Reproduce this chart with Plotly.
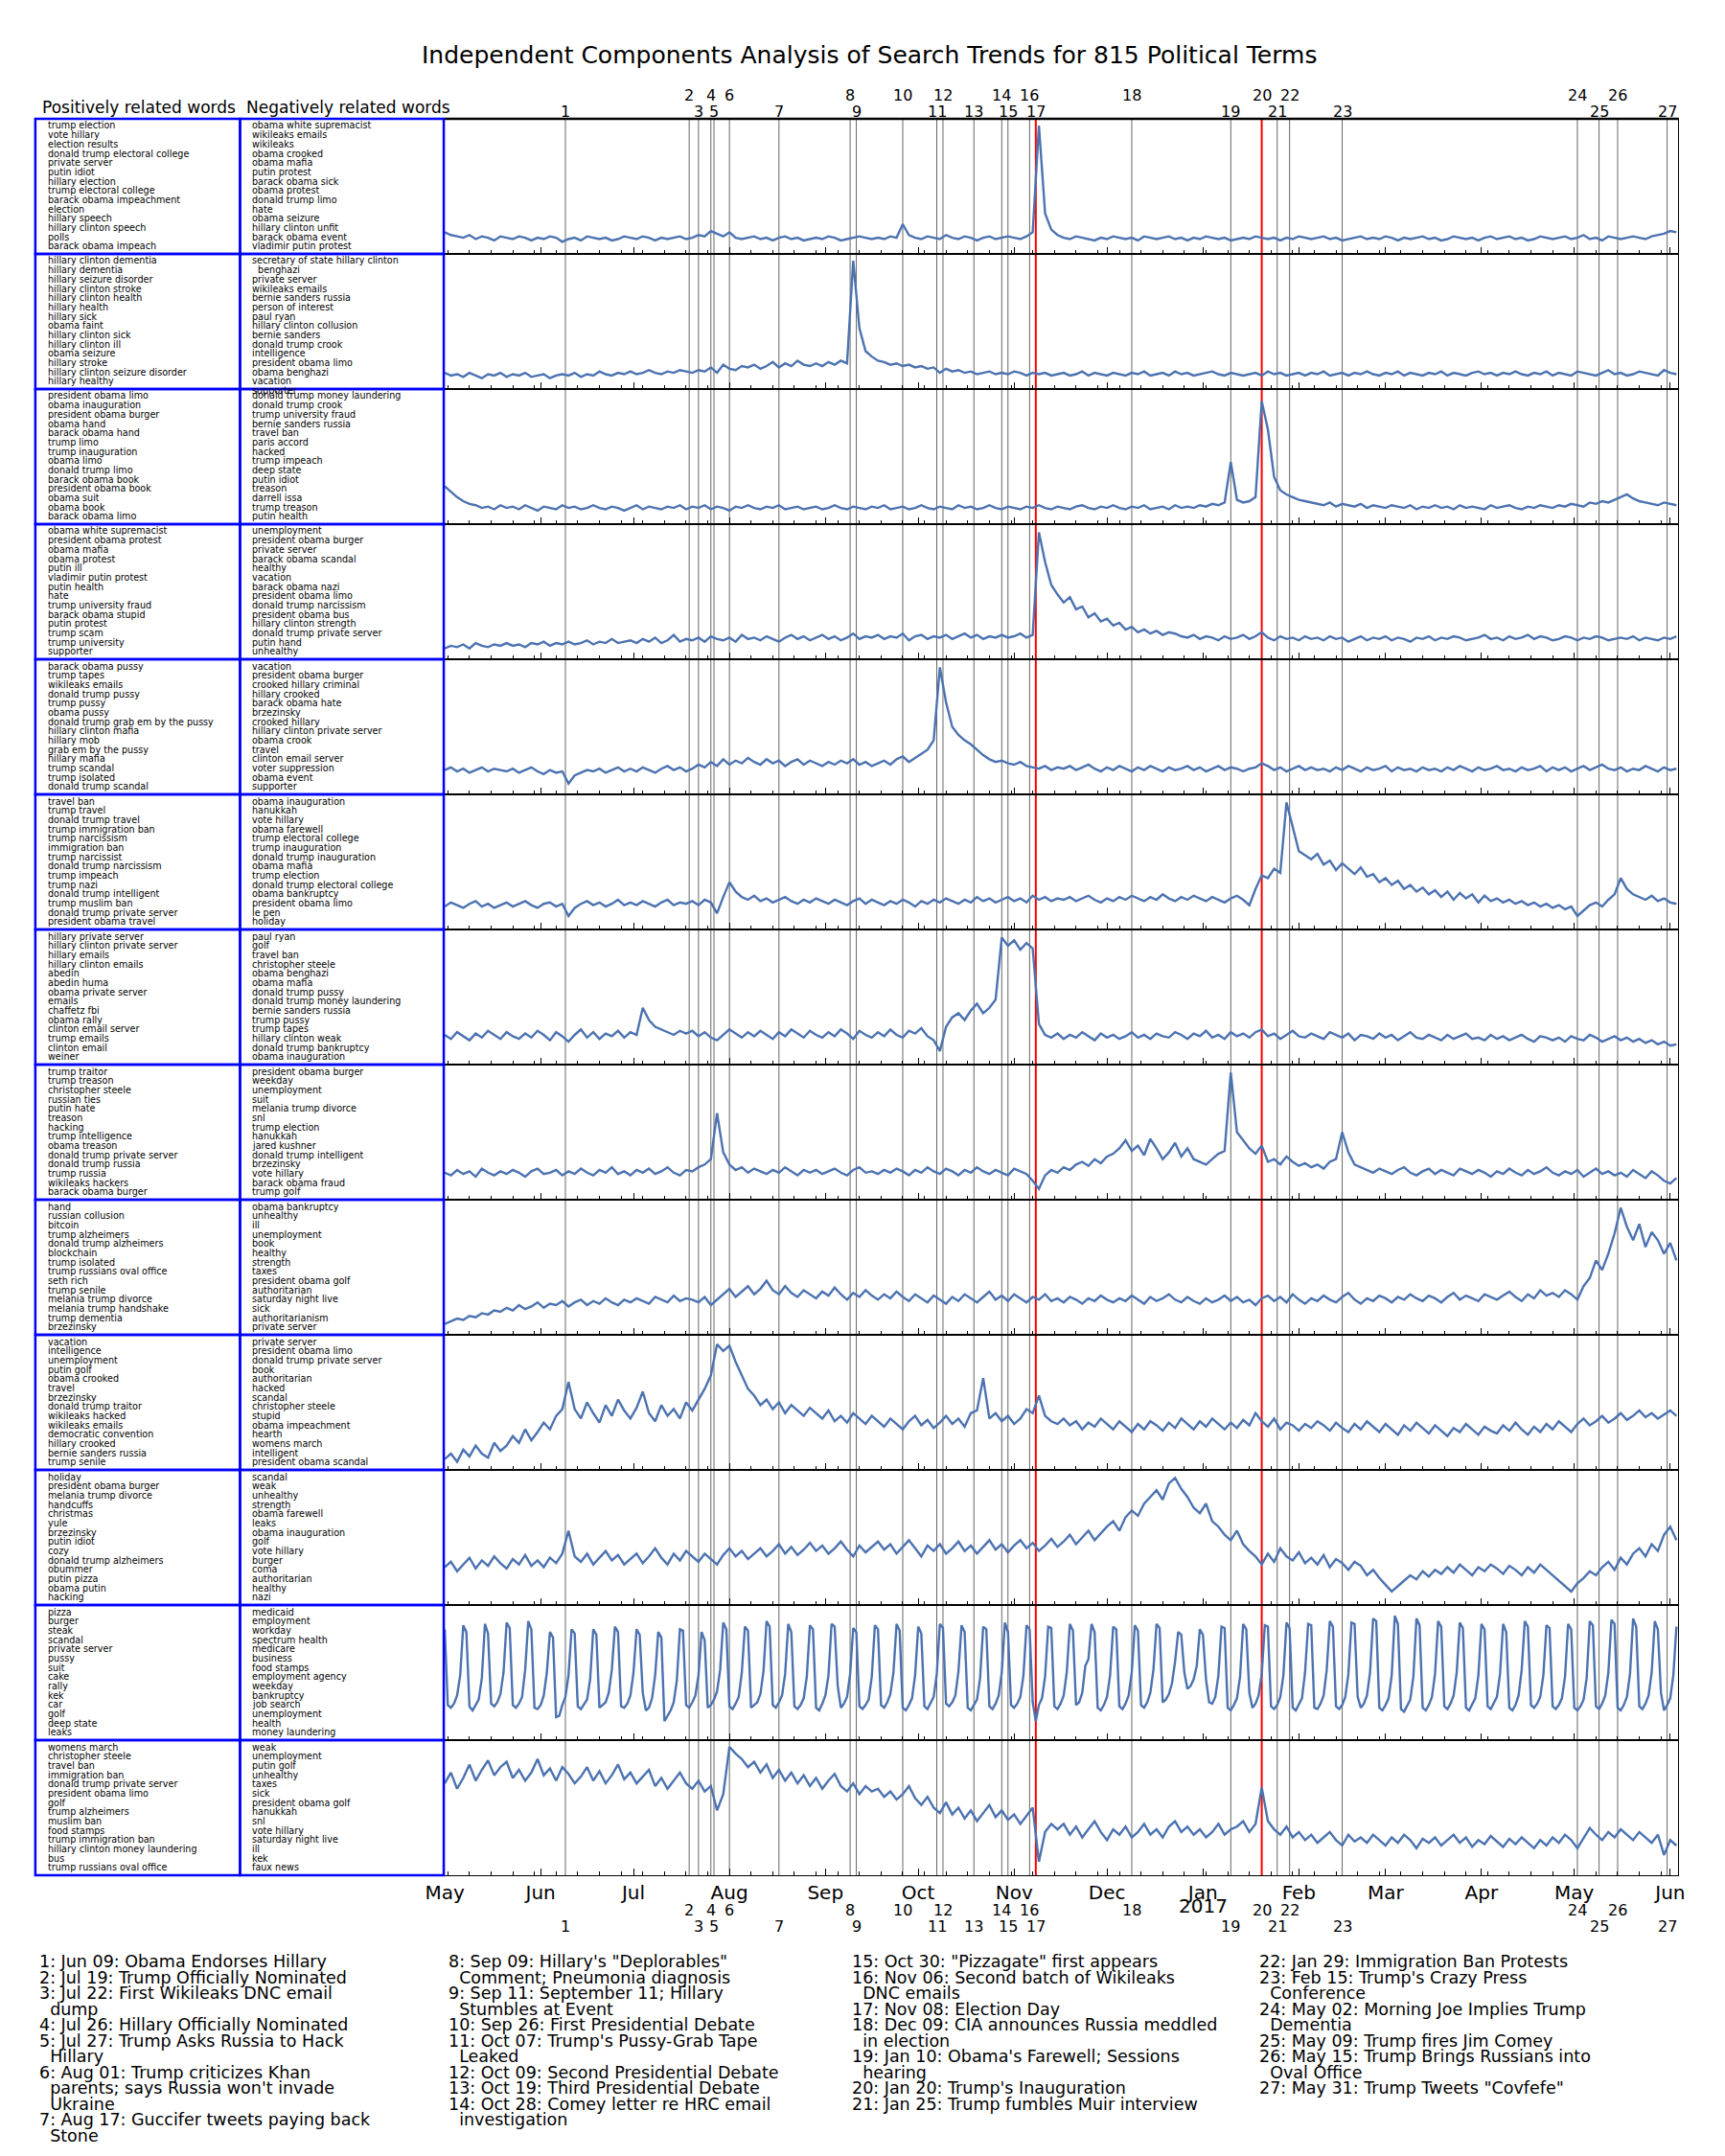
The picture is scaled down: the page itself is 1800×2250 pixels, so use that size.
import pandas as pd
import plotly.graph_objects as go
from plotly.subplots import make_subplots

# page is 1800x2250; the html body adds an 8px margin, so the figure is a bit smaller
PAGE_W, PAGE_H = 1800, 2250
OFF = 8
W, H = 1780, 2230

title = "Independent Components Analysis of Search Trends for 815 Political Terms"

# event markers (number = position + 1)
event_dates = ["2016-06-09", "2016-07-19", "2016-07-22", "2016-07-26", "2016-07-27",
               "2016-08-01", "2016-08-17", "2016-09-09", "2016-09-11", "2016-09-26",
               "2016-10-07", "2016-10-09", "2016-10-19", "2016-10-28", "2016-10-30",
               "2016-11-06", "2016-11-08", "2016-12-09", "2017-01-10", "2017-01-20",
               "2017-01-25", "2017-01-29", "2017-02-15", "2017-05-02", "2017-05-09",
               "2017-05-15", "2017-05-31"]
red_events = [17, 20]

event_labels = [
    "1: Jun 09: Obama Endorses Hillary",
    "2: Jul 19: Trump Officially Nominated",
    "3: Jul 22: First Wikileaks DNC email\ndump",
    "4: Jul 26: Hillary Officially Nominated",
    "5: Jul 27: Trump Asks Russia to Hack\nHillary",
    "6: Aug 01: Trump criticizes Khan\nparents; says Russia won't invade\nUkraine",
    "7: Aug 17: Guccifer tweets paying back\nStone",
    "8: Sep 09: Hillary's \"Deplorables\"\nComment; Pneumonia diagnosis",
    "9: Sep 11: September 11; Hillary\nStumbles at Event",
    "10: Sep 26: First Presidential Debate",
    "11: Oct 07: Trump's Pussy-Grab Tape\nLeaked",
    "12: Oct 09: Second Presidential Debate",
    "13: Oct 19: Third Presidential Debate",
    "14: Oct 28: Comey letter re HRC email\ninvestigation",
    "15: Oct 30: \"Pizzagate\" first appears",
    "16: Nov 06: Second batch of Wikileaks\nDNC emails",
    "17: Nov 08: Election Day",
    "18: Dec 09: CIA announces Russia meddled\nin election",
    "19: Jan 10: Obama's Farewell; Sessions\nhearing",
    "20: Jan 20: Trump's Inauguration",
    "21: Jan 25: Trump fumbles Muir interview",
    "22: Jan 29: Immigration Ban Protests",
    "23: Feb 15: Trump's Crazy Press\nConference",
    "24: May 02: Morning Joe Implies Trump\nDementia",
    "25: May 09: Trump fires Jim Comey",
    "26: May 15: Trump Brings Russians into\nOval Office",
    "27: May 31: Trump Tweets \"Covfefe\"",
]
legend_groups = [(0, 7), (7, 14), (14, 21), (21, 27)]

pos_words = [
    ["trump election", "vote hillary", "election results", "donald trump electoral college",
     "private server", "putin idiot", "hillary election", "trump electoral college",
     "barack obama impeachment", "election", "hillary speech", "hillary clinton speech",
     "polls", "barack obama impeach"],
    ["hillary clinton dementia", "hillary dementia", "hillary seizure disorder",
     "hillary clinton stroke", "hillary clinton health", "hillary health", "hillary sick",
     "obama faint", "hillary clinton sick", "hillary clinton ill", "obama seizure",
     "hillary stroke", "hillary clinton seizure disorder", "hillary healthy"],
    ["president obama limo", "obama inauguration", "president obama burger", "obama hand",
     "barack obama hand", "trump limo", "trump inauguration", "obama limo", "donald trump limo",
     "barack obama book", "president obama book", "obama suit", "obama book", "barack obama limo"],
    ["obama white supremacist", "president obama protest", "obama mafia", "obama protest",
     "putin ill", "vladimir putin protest", "putin health", "hate", "trump university fraud",
     "barack obama stupid", "putin protest", "trump scam", "trump university", "supporter"],
    ["barack obama pussy", "trump tapes", "wikileaks emails", "donald trump pussy", "trump pussy",
     "obama pussy", "donald trump grab em by the pussy", "hillary clinton mafia", "hillary mob",
     "grab em by the pussy", "hillary mafia", "trump scandal", "trump isolated",
     "donald trump scandal"],
    ["travel ban", "trump travel", "donald trump travel", "trump immigration ban",
     "trump narcissism", "immigration ban", "trump narcissist", "donald trump narcissism",
     "trump impeach", "trump nazi", "donald trump intelligent", "trump muslim ban",
     "donald trump private server", "president obama travel"],
    ["hillary private server", "hillary clinton private server", "hillary emails",
     "hillary clinton emails", "abedin", "abedin huma", "obama private server", "emails",
     "chaffetz fbi", "obama rally", "clinton email server", "trump emails", "clinton email",
     "weiner"],
    ["trump traitor", "trump treason", "christopher steele", "russian ties", "putin hate",
     "treason", "hacking", "trump intelligence", "obama treason", "donald trump private server",
     "donald trump russia", "trump russia", "wikileaks hackers", "barack obama burger"],
    ["hand", "russian collusion", "bitcoin", "trump alzheimers", "donald trump alzheimers",
     "blockchain", "trump isolated", "trump russians oval office", "seth rich", "trump senile",
     "melania trump divorce", "melania trump handshake", "trump dementia", "brzezinsky"],
    ["vacation", "intelligence", "unemployment", "putin golf", "obama crooked", "travel",
     "brzezinsky", "donald trump traitor", "wikileaks hacked", "wikileaks emails",
     "democratic convention", "hillary crooked", "bernie sanders russia", "trump senile"],
    ["holiday", "president obama burger", "melania trump divorce", "handcuffs", "christmas",
     "yule", "brzezinsky", "putin idiot", "cozy", "donald trump alzheimers", "obummer",
     "putin pizza", "obama putin", "hacking"],
    ["pizza", "burger", "steak", "scandal", "private server", "pussy", "suit", "cake", "rally",
     "kek", "car", "golf", "deep state", "leaks"],
    ["womens march", "christopher steele", "travel ban", "immigration ban",
     "donald trump private server", "president obama limo", "golf", "trump alzheimers",
     "muslim ban", "food stamps", "trump immigration ban", "hillary clinton money laundering",
     "bus", "trump russians oval office"],
]

neg_words = [
    ["obama white supremacist", "wikileaks emails", "wikileaks", "obama crooked", "obama mafia",
     "putin protest", "barack obama sick", "obama protest", "donald trump limo", "hate",
     "obama seizure", "hillary clinton unfit", "barack obama event", "vladimir putin protest"],
    ["secretary of state hillary clinton\nbenghazi", "private server", "wikileaks emails",
     "bernie sanders russia", "person of interest", "paul ryan", "hillary clinton collusion",
     "bernie sanders", "donald trump crook", "intelligence", "president obama limo",
     "obama benghazi", "vacation", "supporter"],
    ["donald trump money laundering", "donald trump crook", "trump university fraud",
     "bernie sanders russia", "travel ban", "paris accord", "hacked", "trump impeach",
     "deep state", "putin idiot", "treason", "darrell issa", "trump treason", "putin health"],
    ["unemployment", "president obama burger", "private server", "barack obama scandal",
     "healthy", "vacation", "barack obama nazi", "president obama limo",
     "donald trump narcissism", "president obama bus", "hillary clinton strength",
     "donald trump private server", "putin hand", "unhealthy"],
    ["vacation", "president obama burger", "crooked hillary criminal", "hillary crooked",
     "barack obama hate", "brzezinsky", "crooked hillary", "hillary clinton private server",
     "obama crook", "travel", "clinton email server", "voter suppression", "obama event",
     "supporter"],
    ["obama inauguration", "hanukkah", "vote hillary", "obama farewell",
     "trump electoral college", "trump inauguration", "donald trump inauguration",
     "obama mafia", "trump election", "donald trump electoral college", "obama bankruptcy",
     "president obama limo", "le pen", "holiday"],
    ["paul ryan", "golf", "travel ban", "christopher steele", "obama benghazi", "obama mafia",
     "donald trump pussy", "donald trump money laundering", "bernie sanders russia",
     "trump pussy", "trump tapes", "hillary clinton weak", "donald trump bankruptcy",
     "obama inauguration"],
    ["president obama burger", "weekday", "unemployment", "suit", "melania trump divorce", "snl",
     "trump election", "hanukkah", "jared kushner", "donald trump intelligent", "brzezinsky",
     "vote hillary", "barack obama fraud", "trump golf"],
    ["obama bankruptcy", "unhealthy", "ill", "unemployment", "book", "healthy", "strength",
     "taxes", "president obama golf", "authoritarian", "saturday night live", "sick",
     "authoritarianism", "private server"],
    ["private server", "president obama limo", "donald trump private server", "book",
     "authoritarian", "hacked", "scandal", "christopher steele", "stupid", "obama impeachment",
     "hearth", "womens march", "intelligent", "president obama scandal"],
    ["scandal", "weak", "unhealthy", "strength", "obama farewell", "leaks", "obama inauguration",
     "golf", "vote hillary", "burger", "coma", "authoritarian", "healthy", "nazi"],
    ["medicaid", "employment", "workday", "spectrum health", "medicare", "business",
     "food stamps", "employment agency", "weekday", "bankruptcy", "job search", "unemployment",
     "health", "money laundering"],
    ["weak", "unemployment", "putin golf", "unhealthy", "taxes", "sick", "president obama golf",
     "hanukkah", "snl", "vote hillary", "saturday night live", "ill", "kek", "faux news"],
]

# component activity, one value every 2 days from 2016-05-01 (scaled 0-100 per panel)
comp01 = [16, 14, 13, 12, 14, 11, 13, 12, 10, 13, 12, 11, 13, 12, 10, 12, 11, 13, 12, 9,
          11, 12, 10, 13, 12, 11, 12, 10, 11, 13, 12, 11, 13, 12, 10, 12, 11, 12, 13, 11,
          12, 14, 13, 17, 15, 13, 16, 12, 11, 12, 13, 11, 12, 10, 12, 13, 11, 12, 10, 11,
          12, 11, 13, 12, 10, 11, 12, 13, 12, 11, 12, 11, 13, 12, 22, 14, 12, 11, 13, 12,
          11, 14, 12, 11, 13, 12, 10, 12, 13, 11, 12, 13, 12, 11, 13, 16, 95, 30, 18, 14,
          12, 11, 13, 12, 11, 10, 12, 11, 13, 12, 11, 12, 10, 13, 12, 11, 12, 13, 11, 12,
          10, 12, 11, 13, 12, 11, 12, 10, 11, 12, 11, 13, 12, 11, 12, 10, 12, 11, 13, 12,
          11, 12, 13, 11, 12, 10, 11, 12, 13, 11, 12, 11, 13, 12, 10, 12, 11, 12, 13, 11,
          12, 10, 11, 13, 12, 11, 12, 10, 12, 13, 11, 12, 13, 11, 12, 10, 11, 13, 12, 11,
          12, 13, 11, 12, 14, 11, 12, 10, 13, 12, 11, 12, 13, 12, 11, 13, 14, 15, 17, 16]
comp02 = [12, 10, 11, 9, 12, 10, 8, 11, 10, 12, 9, 11, 10, 12, 9, 10, 11, 8, 10, 11,
          10, 12, 9, 11, 10, 13, 11, 10, 12, 11, 13, 11, 12, 14, 12, 11, 13, 12, 14, 13,
          12, 14, 13, 16, 12, 18, 15, 14, 17, 16, 18, 15, 17, 20, 16, 19, 17, 21, 18, 17,
          19, 17, 20, 18, 21, 19, 95, 45, 28, 24, 21, 20, 18, 19, 17, 18, 16, 17, 15, 16,
          12, 15, 13, 14, 12, 13, 11, 12, 13, 11, 12, 11, 13, 12, 10, 12, 11, 12, 10, 11,
          12, 10, 11, 13, 10, 12, 11, 10, 12, 11, 10, 12, 11, 13, 10, 11, 12, 10, 13, 11,
          12, 10, 11, 12, 13, 11, 10, 12, 11, 10, 11, 12, 10, 13, 11, 12, 10, 11, 12, 10,
          12, 11, 13, 10, 11, 12, 10, 12, 11, 13, 11, 10, 12, 11, 13, 10, 12, 11, 10, 12,
          11, 13, 10, 12, 11, 10, 12, 13, 11, 12, 10, 12, 11, 13, 11, 10, 12, 11, 13, 10,
          12, 11, 10, 13, 12, 11, 10, 12, 14, 11, 12, 10, 11, 13, 12, 11, 10, 14, 12, 11]
comp03 = [28, 24, 20, 17, 15, 14, 12, 13, 11, 14, 12, 13, 11, 14, 12, 10, 13, 12, 11, 14,
          12, 13, 11, 12, 14, 12, 11, 13, 12, 10, 12, 14, 11, 13, 12, 11, 13, 12, 14, 11,
          13, 12, 14, 11, 13, 12, 10, 13, 12, 14, 12, 11, 13, 12, 14, 11, 12, 13, 11, 12,
          13, 11, 12, 14, 12, 11, 13, 12, 11, 13, 12, 14, 11, 12, 13, 11, 12, 14, 12, 11,
          13, 12, 11, 14, 12, 13, 11, 12, 14, 12, 11, 13, 12, 11, 13, 12, 14, 12, 11, 13,
          12, 11, 13, 14, 12, 11, 13, 12, 14, 12, 11, 13, 12, 14, 11, 12, 13, 11, 14, 12,
          13, 12, 14, 13, 15, 14, 16, 46, 18, 16, 17, 20, 91, 70, 35, 25, 22, 20, 18, 17,
          16, 15, 14, 16, 13, 15, 14, 13, 15, 12, 14, 13, 12, 14, 13, 12, 14, 11, 13, 12,
          14, 12, 13, 11, 14, 12, 13, 12, 11, 14, 12, 13, 14, 12, 11, 13, 12, 14, 13, 12,
          14, 13, 15, 14, 13, 16, 15, 17, 16, 18, 20, 22, 19, 17, 16, 15, 14, 16, 15, 14]
comp04 = [8, 10, 9, 11, 8, 12, 10, 9, 11, 10, 12, 10, 11, 9, 12, 11, 13, 10, 12, 11,
          13, 11, 12, 14, 11, 13, 12, 15, 12, 13, 14, 12, 15, 13, 16, 12, 14, 18, 13, 15,
          14, 16, 13, 17, 15, 14, 16, 13, 18, 15, 16, 14, 17, 15, 13, 16, 18, 15, 17, 14,
          16, 18, 15, 17, 14, 16, 19, 15, 17, 16, 18, 15, 17, 16, 19, 14, 17, 18, 15, 17,
          16, 18, 15, 17, 19, 16, 18, 15, 17, 16, 18, 16, 17, 19, 16, 18, 94, 72, 55, 48,
          42, 46, 37, 39, 31, 34, 28, 30, 25, 27, 22, 24, 20, 22, 19, 21, 18, 20, 19, 17,
          16, 18, 15, 17, 16, 14, 17, 15, 16, 18, 15, 17, 20, 16, 14, 17, 15, 16, 14, 17,
          15, 16, 14, 17, 15, 16, 13, 15, 17, 14, 16, 15, 17, 14, 16, 15, 13, 16, 15, 17,
          14, 16, 15, 17, 16, 14, 15, 16, 18, 15, 16, 14, 17, 15, 16, 18, 15, 17, 16, 14,
          15, 17, 16, 14, 16, 15, 17, 16, 14, 15, 16, 15, 17, 14, 16, 15, 14, 16, 15, 17]
comp05 = [18, 20, 17, 19, 16, 18, 20, 17, 19, 18, 17, 19, 16, 18, 20, 17, 15, 18, 16, 17,
          8, 14, 16, 18, 17, 19, 16, 18, 20, 17, 19, 17, 20, 18, 16, 19, 21, 18, 20, 17,
          19, 22, 20, 24, 21, 26, 22, 25, 23, 27, 24, 22, 26, 23, 25, 21, 24, 26, 22, 25,
          23, 21, 24, 22, 25, 23, 26, 22, 24, 21, 23, 25, 22, 26, 28, 24, 27, 30, 33, 40,
          94, 68, 50, 44, 40, 37, 33, 29, 26, 24, 25, 23, 22, 24, 21, 20, 19, 21, 18, 20,
          19, 21, 18, 20, 22, 19, 17, 20, 18, 21, 19, 17, 20, 18, 21, 19, 17, 20, 18, 19,
          21, 18, 20, 17, 19, 21, 18, 20, 19, 17, 19, 20, 23, 21, 18, 20, 17, 19, 21, 18,
          20, 18, 19, 17, 20, 18, 21, 19, 17, 20, 18, 19, 21, 17, 20, 18, 19, 17, 20, 18,
          19, 17, 20, 18, 21, 19, 17, 20, 18, 19, 21, 18, 19, 17, 20, 18, 19, 21, 17, 20,
          18, 20, 17, 19, 21, 18, 20, 22, 19, 18, 20, 17, 19, 18, 21, 19, 17, 20, 18, 19]
comp06 = [17, 20, 18, 16, 19, 21, 17, 19, 16, 18, 20, 17, 19, 21, 18, 16, 19, 20, 17, 19,
          10, 16, 19, 21, 18, 20, 17, 19, 22, 18, 20, 18, 21, 19, 17, 20, 22, 18, 20, 19,
          21, 18, 22, 20, 12, 24, 35, 28, 24, 22, 25, 21, 23, 20, 22, 24, 21, 19, 22, 20,
          23, 21, 19, 22, 20, 18, 21, 23, 19, 22, 20, 18, 21, 19, 22, 20, 17, 21, 19, 22,
          20, 23, 21, 19, 22, 20, 24, 21, 23, 20, 22, 24, 21, 23, 20, 25, 22, 24, 21, 23,
          22, 24, 21, 23, 25, 22, 20, 23, 21, 24, 22, 25, 23, 21, 24, 22, 26, 23, 21, 24,
          22, 25, 23, 21, 24, 22, 20, 23, 25, 22, 18, 30, 40, 38, 45, 42, 94, 76, 58, 55,
          52, 56, 48, 51, 44, 49, 45, 41, 46, 39, 41, 35, 38, 33, 36, 30, 33, 28, 31, 26,
          29, 24, 28, 22, 27, 23, 26, 20, 25, 21, 23, 20, 22, 19, 21, 18, 20, 17, 19, 16,
          18, 15, 17, 10, 14, 18, 20, 17, 22, 26, 38, 30, 26, 24, 22, 25, 21, 23, 20, 19]
comp07 = [22, 19, 24, 21, 18, 23, 20, 25, 22, 19, 24, 21, 19, 23, 20, 25, 22, 18, 24, 21,
          17, 22, 26, 20, 24, 19, 23, 21, 25, 20, 24, 22, 42, 33, 28, 26, 24, 22, 25, 23,
          25, 21, 24, 20, 18, 22, 26, 23, 20, 24, 21, 25, 22, 19, 24, 21, 26, 23, 20, 25,
          22, 20, 24, 21, 26, 23, 19, 25, 22, 20, 24, 21, 26, 22, 20, 25, 23, 27, 21, 18,
          10, 28, 35, 38, 33, 40, 45, 38, 42, 48, 94, 88, 92, 85, 90, 86, 30, 22, 20, 23,
          19, 22, 20, 24, 21, 18, 23, 20, 22, 19, 21, 24, 20, 22, 19, 23, 21, 20, 24, 22,
          19, 23, 21, 25, 20, 22, 19, 24, 21, 23, 20, 24, 26, 21, 23, 19, 22, 25, 21, 20,
          23, 21, 19, 24, 22, 20, 23, 18, 22, 21, 19, 23, 20, 22, 18, 21, 24, 20, 19, 22,
          20, 18, 22, 19, 21, 23, 19, 20, 18, 22, 19, 21, 18, 20, 22, 19, 17, 21, 20, 18,
          20, 17, 21, 19, 18, 22, 20, 17, 19, 21, 18, 20, 17, 19, 16, 18, 15, 17, 14, 15]
comp08 = [20, 18, 22, 19, 21, 17, 23, 20, 18, 21, 19, 22, 20, 17, 21, 23, 19, 20, 22, 18,
          21, 19, 23, 20, 18, 22, 20, 24, 19, 21, 18, 22, 20, 23, 19, 21, 24, 20, 18, 22,
          21, 24, 26, 30, 64, 35, 26, 22, 24, 20, 23, 21, 19, 22, 20, 24, 21, 18, 22, 20,
          22, 19, 21, 23, 20, 18, 22, 24, 20, 21, 19, 22, 20, 23, 21, 18, 22, 20, 24, 21,
          19, 23, 21, 18, 22, 20, 24, 21, 19, 22, 20, 18, 23, 21, 19, 14, 8, 18, 22, 20,
          24, 22, 26, 28, 25, 30, 27, 32, 34, 38, 44, 36, 40, 33, 45, 38, 30, 35, 42, 32,
          38, 30, 28, 26, 30, 34, 36, 94, 50, 44, 38, 34, 40, 28, 30, 26, 32, 28, 25, 27,
          24, 26, 23, 28, 30, 50, 35, 26, 24, 22, 20, 23, 21, 19, 22, 24, 20, 18, 21, 23,
          19, 22, 20, 18, 23, 21, 19, 22, 20, 17, 21, 19, 23, 20, 18, 22, 19, 21, 24, 20,
          18, 21, 19, 22, 17, 20, 23, 19, 21, 18, 20, 17, 22, 19, 16, 21, 18, 14, 12, 16]
comp09 = [8, 10, 12, 11, 14, 13, 16, 15, 18, 17, 20, 18, 22, 19, 21, 24, 20, 23, 22, 25,
          21, 24, 26, 22, 25, 23, 27, 24, 22, 26, 24, 27, 25, 23, 28, 26, 24, 29, 25, 27,
          26, 24, 28, 22, 26, 30, 34, 28, 32, 36, 30, 34, 40, 33, 30, 36, 31, 28, 33, 30,
          27, 32, 29, 35, 30, 26, 31, 28, 33, 29, 26, 30, 27, 32, 28, 25, 30, 27, 24, 29,
          26, 23, 28, 25, 30, 27, 24, 28, 32, 26, 29, 25, 30, 27, 24, 28, 26, 30, 25, 27,
          24, 28, 26, 23, 27, 25, 29, 26, 24, 27, 25, 29, 26, 23, 28, 25, 27, 30, 26, 24,
          28, 25, 23, 27, 24, 26, 29, 25, 28, 24, 26, 22, 27, 29, 25, 28, 24, 30, 26, 23,
          27, 25, 29, 26, 24, 28, 31, 26, 23, 27, 25, 29, 27, 24, 28, 26, 30, 27, 25, 29,
          27, 24, 28, 31, 26, 29, 27, 25, 30, 28, 26, 29, 32, 28, 25, 30, 27, 33, 29, 31,
          28, 33, 30, 26, 36, 42, 55, 48, 60, 75, 94, 80, 70, 82, 65, 76, 70, 60, 68, 55]
comp10 = [8, 12, 6, 15, 10, 18, 12, 9, 20, 14, 18, 25, 20, 30, 22, 28, 35, 30, 40, 45,
          65, 45, 38, 50, 42, 35, 48, 40, 52, 44, 38, 46, 58, 42, 36, 48, 40, 45, 38, 50,
          44, 52, 60, 70, 93, 88, 92, 80, 70, 60, 55, 48, 52, 45, 50, 42, 48, 44, 40, 46,
          42, 38, 44, 36, 40, 35, 42, 38, 34, 40, 36, 32, 38, 34, 30, 36, 40, 33, 37, 31,
          35, 40, 34, 38, 32, 42, 44, 68, 38, 42, 36, 40, 34, 38, 45, 42, 55, 40, 36, 34,
          38, 33, 36, 30, 35, 32, 38, 34, 30, 36, 32, 28, 34, 30, 36, 33, 29, 35, 31, 38,
          34, 30, 36, 32, 38, 34, 30, 35, 31, 37, 33, 42, 36, 32, 38, 30, 35, 33, 29, 34,
          31, 36, 33, 29, 35, 31, 28, 34, 30, 36, 32, 28, 34, 30, 26, 33, 29, 35, 31, 27,
          33, 29, 25, 31, 28, 34, 30, 26, 32, 29, 27, 33, 29, 35, 30, 26, 32, 28, 34, 30,
          36, 32, 28, 34, 38, 33, 36, 40, 35, 38, 42, 37, 40, 44, 39, 42, 38, 41, 44, 40]
comp11 = [28, 32, 25, 30, 35, 27, 33, 29, 36, 31, 27, 34, 30, 37, 29, 33, 28, 35, 31, 38,
          55, 36, 32, 38, 30, 35, 40, 33, 37, 30, 34, 38, 31, 36, 42, 35, 30, 38, 33, 40,
          36, 32, 38, 34, 30, 37, 42, 36, 40, 34, 38, 42, 36, 40, 45, 38, 43, 37, 41, 46,
          40, 44, 38, 42, 47, 41, 36, 44, 39, 43, 47, 41, 45, 38, 43, 48, 42, 36, 44, 40,
          45, 38, 42, 47, 40, 44, 38, 43, 48, 41, 45, 39, 44, 48, 42, 46, 40, 44, 49, 43,
          47, 52, 45, 50, 55, 48, 53, 58, 62, 55, 65, 70, 66, 75, 80, 85, 78, 90, 94, 86,
          80, 72, 68, 75, 62, 58, 52, 48, 55, 45, 40, 36, 30, 38, 32, 42, 36, 33, 39, 31,
          35, 30, 37, 28, 34, 31, 26, 32, 29, 22, 26, 20, 15, 10, 14, 18, 22, 19, 25, 21,
          26, 23, 28, 24, 30, 26, 22, 28, 25, 30, 27, 23, 29, 26, 22, 28, 24, 30, 26, 22,
          18, 14, 10, 16, 20, 25, 22, 28, 32, 26, 35, 30, 38, 42, 36, 45, 40, 52, 58, 48]
comp13 = [68, 76, 64, 72, 82, 70, 78, 85, 74, 80, 84, 72, 78, 70, 76, 86, 74, 79, 70, 80,
          75, 68, 73, 80, 70, 77, 68, 74, 82, 71, 76, 68, 73, 78, 66, 72, 64, 70, 76, 68,
          64, 70, 62, 66, 48, 60, 95, 90, 86, 80, 84, 76, 82, 72, 78, 70, 76, 68, 74, 66,
          72, 64, 70, 75, 66, 62, 68, 60, 66, 62, 64, 58, 62, 56, 60, 66, 57, 52, 58, 50,
          46, 54, 45, 50, 42, 48, 40, 46, 52, 43, 48, 41, 45, 38, 44, 50, 10, 32, 38, 34,
          38, 30, 36, 28, 34, 40, 32, 26, 34, 30, 36, 28, 32, 38, 30, 34, 28, 36, 40, 32,
          36, 30, 34, 28, 32, 38, 30, 34, 36, 40, 32, 38, 65, 40, 34, 30, 36, 28, 32, 26,
          30, 24, 28, 32, 26, 22, 30, 25, 28, 24, 30, 26, 22, 28, 24, 30, 26, 20, 27, 24,
          28, 22, 26, 30, 24, 28, 21, 26, 23, 29, 25, 21, 27, 23, 28, 24, 20, 26, 22, 28,
          24, 30, 26, 20, 28, 35, 30, 26, 32, 28, 34, 30, 26, 32, 28, 24, 30, 15, 26, 22]
# weekly component, daily values (rows are weeks starting on Sunday)
comp12 = [82, 26, 24, 27, 33, 48, 85,
          80, 25, 22, 26, 30, 46, 86,
          79, 27, 25, 28, 34, 50, 87,
          83, 26, 24, 27, 32, 52, 88,
          82, 24, 23, 26, 33, 50, 80,
          76, 17, 18, 26, 32, 48, 82,
          79, 25, 23, 27, 30, 45, 82,
          78, 24, 26, 28, 35, 52, 84,
          80, 25, 24, 27, 33, 50, 82,
          78, 35, 22, 24, 31, 48, 80,
          76, 14, 18, 22, 28, 44, 82,
          81, 26, 24, 28, 33, 48, 80,
          74, 24, 26, 30, 36, 52, 87,
          82, 25, 23, 27, 32, 50, 84,
          81, 24, 26, 28, 34, 51, 88,
          84, 26, 24, 28, 33, 49, 86,
          80, 25, 23, 26, 31, 47, 85,
          82, 24, 22, 27, 33, 48, 86,
          84, 40, 24, 27, 32, 49, 83,
          80, 25, 23, 26, 30, 47, 85,
          82, 26, 24, 28, 34, 50, 86,
          81, 24, 22, 26, 31, 48, 84,
          79, 25, 23, 27, 32, 49, 86,
          83, 27, 25, 28, 33, 51, 85,
          80, 24, 22, 26, 30, 46, 84,
          82, 25, 23, 27, 33, 50, 87,
          80, 26, 24, 27, 32, 48, 85,
          82, 28, 14, 26, 31, 47, 84,
          83, 25, 23, 27, 33, 50, 86,
          81, 26, 28, 35, 55, 60, 86,
          80, 24, 22, 26, 32, 48, 84,
          82, 25, 23, 27, 33, 50, 85,
          81, 26, 24, 28, 35, 52, 86,
          83, 28, 30, 34, 42, 58, 80,
          78, 50, 38, 40, 45, 55, 82,
          78, 45, 28, 27, 32, 48, 84,
          83, 24, 22, 26, 31, 47, 86,
          82, 35, 24, 27, 33, 49, 85,
          84, 25, 23, 26, 32, 48, 87,
          83, 24, 22, 26, 31, 50, 86,
          85, 24, 23, 27, 33, 52, 88,
          84, 25, 23, 26, 32, 49, 87,
          86, 32, 24, 27, 33, 50, 90,
          88, 24, 22, 26, 31, 48, 92,
          86, 23, 21, 25, 30, 47, 90,
          85, 24, 22, 26, 32, 49, 88,
          84, 25, 23, 27, 33, 50, 87,
          83, 24, 22, 26, 31, 48, 86,
          82, 25, 23, 27, 32, 49, 86,
          80, 24, 22, 26, 33, 52, 88,
          84, 26, 24, 27, 32, 48, 85,
          83, 25, 23, 26, 31, 47, 86,
          82, 24, 22, 25, 30, 46, 88,
          85, 25, 23, 27, 33, 50, 89,
          86, 24, 22, 26, 32, 49, 90,
          84, 25, 23, 27, 33, 50, 88,
          82, 35, 22, 26, 31, 48, 84]

components = [comp01, comp02, comp03, comp04, comp05, comp06, comp07,
              comp08, comp09, comp10, comp11, comp12, comp13]
steps = ["2D"] * 11 + ["D"] + ["2D"]

# geometry in page pixels
TOP, ROW_H = 124, 141
PLOT_L, PLOT_R = 450, 1758
COL_L, COL_M = 16, 233
n = len(components)
BOTTOM = TOP + n * ROW_H


def px(x):
    return (x - OFF) / W


def py(y):
    return 1 - (y - OFF) / H


fig = make_subplots(rows=n, cols=1, shared_xaxes=True, vertical_spacing=0)

for k, vals in enumerate(components):
    xs = pd.date_range("2016-05-01", periods=len(vals), freq=steps[k])
    fig.add_trace(go.Scatter(x=xs, y=vals, mode="lines", hoverinfo="skip",
                             line=dict(color="#4C72B0", width=2.4)), row=k + 1, col=1)
    top = TOP + k * ROW_H
    fig.update_yaxes(domain=[py(top + ROW_H), py(top)], range=[0, 100], row=k + 1, col=1)

fig.update_yaxes(showticklabels=False, ticks="", showgrid=False, zeroline=False,
                 showline=True, mirror=True, linecolor="black", linewidth=1)
fig.update_xaxes(range=["2016-05-01", "2017-06-03 16:00"], domain=[px(PLOT_L), px(PLOT_R)],
                 showgrid=False, zeroline=False, showline=True, mirror=True,
                 linecolor="black", linewidth=1,
                 ticks="inside", ticklen=7, tickcolor="black", dtick="M1", tick0="2016-05-01",
                 tickformat="%b", tickfont=dict(size=20, color="black"),
                 minor=dict(ticks="inside", ticklen=4, tickcolor="black",
                            dtick=7 * 86400000, tick0="2016-05-02", showgrid=False))

shapes = []
# event lines through all panels
for i, d in enumerate(event_dates):
    red = (i + 1) in red_events
    shapes.append(dict(type="line", xref="x", yref="paper", x0=d, x1=d,
                       y0=py(BOTTOM), y1=py(TOP), layer="below",
                       line=dict(color="#ff0000" if red else "rgba(0,0,0,0.6)",
                                 width=2 if red else 1)))

# heavier top edge over the first panel
shapes.append(dict(type="line", xref="paper", yref="paper", x0=px(PLOT_L), x1=px(PLOT_R),
                   y0=py(TOP), y1=py(TOP), line=dict(color="black", width=2.5)))

# blue word boxes
for k in range(n):
    top = TOP + k * ROW_H
    for x0, x1 in [(COL_L, COL_M), (COL_M, PLOT_L - 1)]:
        shapes.append(dict(type="rect", xref="paper", yref="paper",
                           x0=px(x0), x1=px(x1), y0=py(top + ROW_H), y1=py(top),
                           line=dict(color="#0000ff", width=2.5)))

annotations = []


def text_at(x, y, s, size, anchor="left", xref="paper"):
    annotations.append(dict(x=x, y=py(y), xref=xref, yref="paper", text=s, showarrow=False,
                            xanchor=anchor, yanchor="middle",
                            font=dict(size=size, color="black")))


text_at(px(900), 57, title, 25, "center")
text_at(px(21), 112, "Positively related words", 17)
text_at(px(238), 112, "Negatively related words", 17)

# word lists
for k in range(n):
    top = TOP + k * ROW_H
    for words, x0 in [(pos_words[k], 27), (neg_words[k], 244)]:
        lines = []
        for w in words:
            parts = w.split("\n")
            lines.append(parts[0])
            lines.extend("\u00a0\u00a0" + p for p in parts[1:])
        for j, s in enumerate(lines):
            text_at(px(x0), top + 7 + 9.67 * j, s, 9.6)

# event numbers above and below the panels
for i, d in enumerate(event_dates):
    num = i + 1
    odd = num % 2 == 1
    text_at(d, 116 if odd else 99, str(num), 16, "center", "x")
    text_at(d, 2010 if odd else 1993, str(num), 16, "center", "x")
text_at("2017-01-01", 1989, "2017", 20, "center", "x")

# event legend
legend_x = [18, 452, 880, 1312]
for (a, b), lx in zip(legend_groups, legend_x):
    row = 0
    for lab in event_labels[a:b]:
        parts = lab.split("\n")
        for j, p in enumerate(parts):
            s = p if j == 0 else "\u00a0\u00a0" + p
            text_at(px(lx), 2047 + 16.5 * row, s, 17.5)
            row += 1

fig.update_layout(width=W, height=H, margin=dict(l=0, r=0, t=0, b=0),
                  paper_bgcolor="white", plot_bgcolor="rgba(0,0,0,0)",
                  showlegend=False, font=dict(family="DejaVu Sans", color="black"),
                  shapes=shapes, annotations=annotations)

fig.write_html("out.html")
